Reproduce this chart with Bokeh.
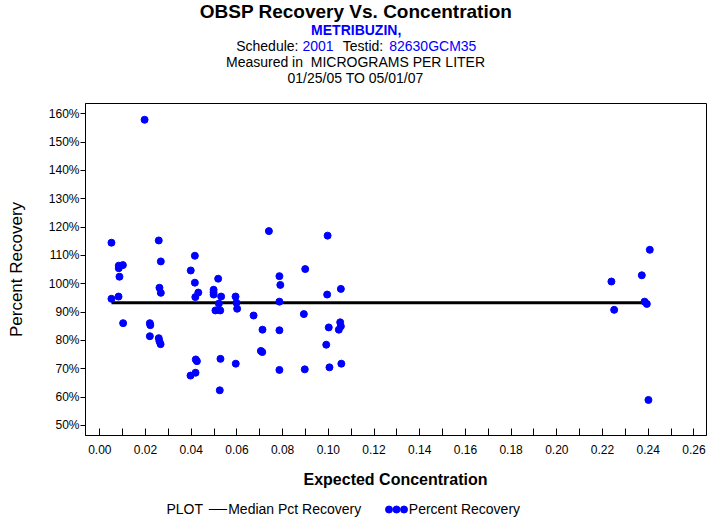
from bokeh.plotting import figure
from bokeh.models import Range1d, FixedTicker
from bokeh.layouts import column
from bokeh.core.properties import value
from bokeh.embed import file_html
from bokeh.resources import INLINE

# ---- data ----
conc = [0.0196, 0.0051, 0.0258, 0.0083, 0.0101, 0.0083, 0.0086, 0.0267, 0.0051, 0.0082,
        0.0102, 0.0261, 0.0267, 0.0219, 0.0221, 0.0219, 0.0258, 0.0261, 0.0266,
        0.0398, 0.0416, 0.0416, 0.0418, 0.0431, 0.0420, 0.0425, 0.0397, 0.0419,
        0.0498, 0.0498, 0.0498, 0.0518, 0.0531, 0.0521, 0.0506, 0.0527, 0.0528, 0.0525,
        0.0594, 0.0598, 0.0601, 0.0595, 0.0673, 0.0740, 0.0712, 0.0705, 0.0711,
        0.0786, 0.0790, 0.0786, 0.0786, 0.0786, 0.0899, 0.0893, 0.0897,
        0.0997, 0.0995, 0.1002, 0.0991, 0.1005, 0.1055, 0.1052, 0.1055, 0.1046, 0.1057,
        0.2407, 0.2372, 0.2239, 0.2384, 0.2394, 0.2251, 0.2401]
pct = [157.9, 114.5, 115.3, 106.4, 106.6, 105.5, 102.5, 107.9, 94.7, 95.5,
       86.1, 98.6, 96.8, 86.1, 85.4, 81.5, 80.8, 79.7, 78.7,
       104.7, 109.9, 100.4, 95.3, 96.9, 73.3, 72.7, 67.6, 68.6,
       97.9, 97.0, 96.2, 101.8, 95.5, 93.0, 90.6, 90.6, 73.5, 62.4,
       95.5, 93.3, 91.2, 71.8, 88.8, 118.6, 83.8, 76.3, 75.9,
       102.7, 99.6, 93.7, 83.6, 69.6, 105.2, 89.3, 69.8,
       117.0, 96.2, 84.6, 78.5, 70.5, 98.2, 86.4, 85.0, 83.8, 71.8,
       112.0, 103.0, 100.8, 93.7, 92.9, 90.8, 59.0]
median_pct = 93.3

x_ticks = [0.00, 0.02, 0.04, 0.06, 0.08, 0.10, 0.12, 0.14, 0.16, 0.18, 0.20, 0.22, 0.24, 0.26]
x_minor = [0.01, 0.03, 0.05, 0.07, 0.09, 0.11, 0.13, 0.15, 0.17, 0.19, 0.21, 0.23, 0.25]
y_ticks = [50, 60, 70, 80, 90, 100, 110, 120, 130, 140, 150, 160]

FONT = "Liberation Sans"
BLUE = "#0000FF"
W = 713
FRAME_L, FRAME_R = 85, 706
HEADER_H, MAIN_H = 95, 365
FOOTER_H = 523 - HEADER_H - MAIN_H


def blank(h, y0):
    # the column layout aligns this frame with the main plot's frame (x 85..706)
    f = figure(width=W, height=h, output_backend="svg", toolbar_location=None,
               x_range=Range1d(FRAME_L, FRAME_R), y_range=Range1d(y0 + h, y0),
               x_axis_type=None, y_axis_type=None,
               min_border=0, min_border_left=FRAME_L, min_border_right=W - FRAME_R,
               min_border_top=0, min_border_bottom=0)
    f.outline_line_color = None
    f.background_fill_color = "white"
    f.border_fill_color = "white"
    f.xgrid.visible = False
    f.ygrid.visible = False
    return f


def txt(f, s, x, y, size, color="black", style="normal", align="left"):
    px = float(size.replace("px", ""))
    f.text(x=[x], y=[y - 0.42 * px], text=[s], text_font=value(FONT), text_font_size=value(size),
           text_color=value(color), text_font_style=value(style),
           text_align=value(align), text_baseline=value("alphabetic"))


# ---- header (titles) ----
header = blank(HEADER_H, 0)
txt(header, "OBSP Recovery Vs. Concentration", 355.5, 18.5, "19px", style="bold", align="center")
txt(header, "METRIBUZIN,", 355.7, 35.5, "14px", color=BLUE, style="bold", align="center")
txt(header, "Schedule:", 235.7, 51.7, "14px")
txt(header, "2001", 302, 51.7, "14px", color=BLUE)
txt(header, "Testid:", 342.3, 51.7, "14px")
txt(header, "82630GCM35", 388.7, 51.7, "14px", color=BLUE)
txt(header, "Measured in\u00a0 MICROGRAMS PER LITER", 355, 67.3, "14px", align="center")
txt(header, "01/25/05 TO 05/01/07", 355, 83.3, "14px", align="center")

# ---- main plot ----
p = figure(width=W, height=MAIN_H, output_backend="svg", toolbar_location=None,
           x_range=Range1d(-0.00626, 0.26551), y_range=Range1d(46.45, 163.64),
           min_border_left=FRAME_L, min_border_right=W - FRAME_R, min_border_top=8, min_border_bottom=25)
p.background_fill_color = "white"
p.border_fill_color = "white"
p.outline_line_color = "black"
p.outline_line_alpha = 1.0
p.outline_line_width = 1
p.xgrid.visible = False
p.ygrid.visible = False

xa = p.xaxis[0]
xa.ticker = FixedTicker(ticks=x_ticks, minor_ticks=x_minor)
xa.major_label_overrides = {t: f"{t:.2f}" for t in x_ticks}
xa.major_tick_in = 7
xa.major_tick_out = 0
xa.minor_tick_in = 7
xa.minor_tick_out = 0
xa.major_label_standoff = 9
xa.major_label_text_font = FONT
xa.major_label_text_font_size = "12px"
xa.major_label_text_color = "black"
xa.axis_line_color = "black"
xa.major_tick_line_color = "black"
xa.minor_tick_line_color = "black"

ya = p.yaxis[0]
ya.ticker = FixedTicker(ticks=y_ticks, minor_ticks=[])
ya.major_label_overrides = {t: f"{t}%" for t in y_ticks}
ya.major_tick_in = 0
ya.major_tick_out = 5
ya.major_label_standoff = 1
ya.major_label_text_font = FONT
ya.major_label_text_font_size = "12px"
ya.major_label_text_color = "black"
ya.axis_line_color = "black"
ya.major_tick_line_color = "black"
ya.axis_label = "Percent Recovery"
ya.axis_label_text_font = FONT
ya.axis_label_text_font_size = "17px"
ya.axis_label_text_font_style = "normal"
ya.axis_label_text_color = "black"
ya.axis_label_standoff = 20

p.line([min(conc), max(conc)], [median_pct, median_pct], line_color="black", line_width=3)
p.scatter(conc, pct, size=7, fill_color=BLUE, line_color=BLUE)

# ---- footer (x label + legend) ----
y0 = HEADER_H + MAIN_H
footer = blank(FOOTER_H, y0)
txt(footer, "Expected Concentration", 395, 486, "16px", style="bold", align="center")
txt(footer, "PLOT", 166, 514.3, "14px")
footer.line([208.3, 226.7], [509, 509], line_color="black", line_width=1)
txt(footer, "Median Pct Recovery", 227.7, 514.3, "14px")
footer.scatter([388.5, 396.0, 403.5], [509, 509, 509], size=7, fill_color=BLUE, line_color=BLUE)
txt(footer, "Percent Recovery", 408.3, 514.3, "14px")

page = column(header, p, footer, spacing=0)
open("out.html", "w").write(file_html(page, INLINE))
